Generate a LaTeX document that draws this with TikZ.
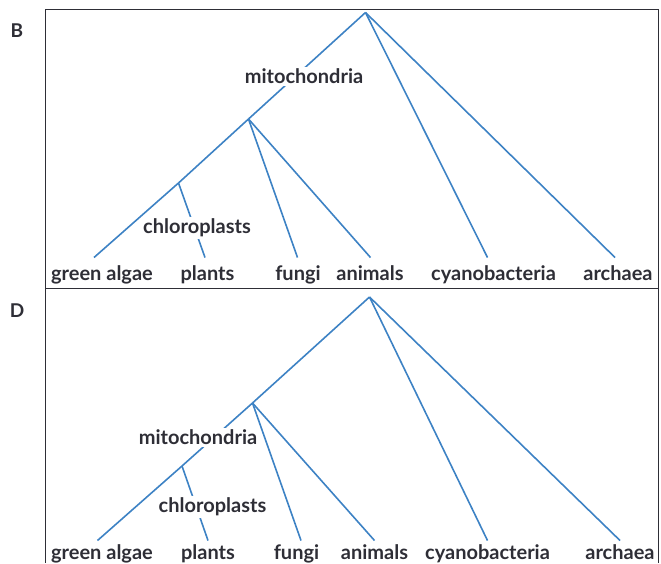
\documentclass[tikz,border=0pt]{standalone}
\usepackage{fontspec}
\setmainfont{Lato}
\definecolor{branch}{HTML}{3D82C4}
\definecolor{ink}{HTML}{2E2E36}
\begin{document}
\begin{tikzpicture}[x=1pt,y=-1pt,
  branchline/.style={draw=branch,line width=1.6pt},
  taxon/.style={text=ink,font=\fontsize{20}{23}\selectfont\bfseries,inner sep=0pt,anchor=base},
  event/.style={text=ink,font=\fontsize{20}{23}\selectfont\bfseries,fill=white,inner sep=2pt},
  panel/.style={text=ink,font=\fontsize{19}{22}\selectfont\bfseries}]
\useasboundingbox (0,0) rectangle (661,563);
% frame
\draw[ink,line width=0.9pt] (658,563) -- (658,9.5) -- (45.5,9.5) -- (45.5,563);
\draw[ink,line width=0.9pt] (45.5,288.5) -- (658,288.5);
\node[panel] (labB) at (17,31) {B};
\node[panel] (labD) at (17,311) {D};

% ---- tree B ----
\coordinate (bR) at (365.5,12.5);
\coordinate (bN1) at (248.5,119);
\coordinate (bN2) at (178.5,183);
\coordinate (bT1) at (94,257.5);
\coordinate (bT2) at (205,257.5);
\coordinate (bT3) at (297.5,257.5);
\coordinate (bT4) at (370.5,257.5);
\coordinate (bT5) at (487.5,257.5);
\coordinate (bT6) at (615,257.5);
\draw[branchline] (bR) -- (bN1);
\draw[branchline] (bN1) -- (bN2);
\draw[branchline] (bN2) -- (bT1);
\draw[branchline] (bN2) -- (bT2);
\draw[branchline] (bN1) -- (bT3);
\draw[branchline] (bN1) -- (bT4);
\draw[branchline] (bR) -- (bT5);
\draw[branchline] (bR) -- (bT6);
\node[event] (bMito) at (304,76.5) {mitochondria};
\node[event] (bChloro) at (197,228) {chloroplasts};
\node[taxon] (bL1) at (102,280) {green algae};
\node[taxon] (bL2) at (207.5,280) {plants};
\node[taxon] (bL3) at (298,280) {fungi};
\node[taxon] (bL4) at (370,280) {animals};
\node[taxon] (bL5) at (493.5,280) {cyanobacteria};
\node[taxon] (bL6) at (618,280) {archaea};

% ---- tree D ----
\coordinate (dR) at (369.5,297);
\coordinate (dN1) at (252.5,403);
\coordinate (dN2) at (182,466);
\coordinate (dT1) at (97.5,540.5);
\coordinate (dT2) at (208,540.5);
\coordinate (dT3) at (301,540.5);
\coordinate (dT4) at (374.5,540.5);
\coordinate (dT5) at (487.5,540.5);
\coordinate (dT6) at (620,540.5);
\draw[branchline] (dR) -- (dN1);
\draw[branchline] (dN1) -- (dN2);
\draw[branchline] (dN2) -- (dT1);
\draw[branchline] (dN2) -- (dT2);
\draw[branchline] (dN1) -- (dT3);
\draw[branchline] (dN1) -- (dT4);
\draw[branchline] (dR) -- (dT5);
\draw[branchline] (dR) -- (dT6);
\node[event] (dMito) at (198,437.5) {mitochondria};
\node[event] (dChloro) at (212.5,507) {chloroplasts};
\node[taxon] (dL1) at (102,559.5) {green algae};
\node[taxon] (dL2) at (208,559.5) {plants};
\node[taxon] (dL3) at (296.5,559.5) {fungi};
\node[taxon] (dL4) at (374.5,559.5) {animals};
\node[taxon] (dL5) at (487.5,559.5) {cyanobacteria};
\node[taxon] (dL6) at (620,559.5) {archaea};
\end{tikzpicture}
\end{document}
